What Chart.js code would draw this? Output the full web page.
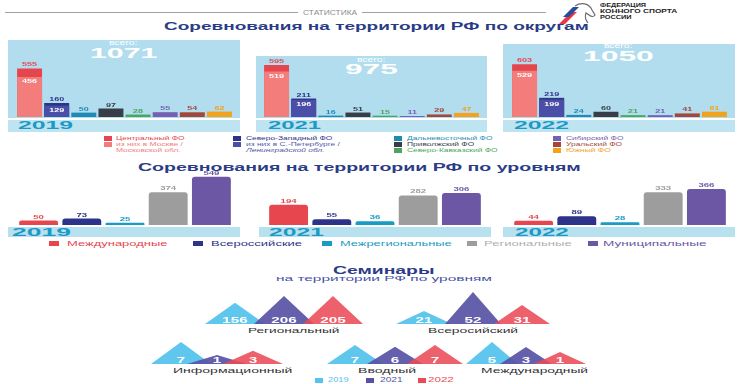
<!DOCTYPE html>
<html lang="ru">
<head>
<meta charset="utf-8">
<title>Статистика</title>
<script src="https://cdn.jsdelivr.net/npm/chart.js@4.4.1/dist/chart.umd.min.js"></script>
<style>
  body { margin: 0; width: 750px; height: 384px; background: #fff; position: relative; overflow: hidden;
         font-family: "Liberation Sans", Arial, sans-serif; }
  .t { position: absolute; white-space: nowrap; line-height: 1; transform-origin: 0 0; transform: scaleX(1.4); }
  .b { font-weight: bold; }
  .box { position: absolute; }
  .sq { position: absolute; width: 8px; height: 5px; }
  .leg { font-size: 6px; }
  canvas { position: absolute; }
</style>
</head>
<body>

<!-- шапка -->
<div class="box" style="left:5px;top:12px;width:293px;height:1px;background:#a0a0a0"></div>
<div class="t" data-w="54" style="left:303px;top:9px;font-size:7px;color:#8c8c8c">СТАТИСТИКА</div>
<div class="box" style="left:362px;top:12px;width:184px;height:1px;background:#a0a0a0"></div>
<svg class="box" style="left:558px;top:1px" width="40" height="24" viewBox="0 0 40 24">
  <polygon points="1,23 7,23 19,11 13,11" fill="#e53a45"/>
  <polygon points="5,16 11,16 21,6 15,6" fill="#2a4a9c"/>
  <path d="M17 5 C23 1 31 2 34 9 L37 14 Q35 17 31 14 L28 12 Q26 17 30 22" fill="none" stroke="#6a6a6a" stroke-width="1.2"/>
</svg>
<div class="t b" data-w="46" style="left:600px;top:3px;font-size:5.5px;color:#222">ФЕДЕРАЦИЯ</div>
<div class="t b" data-w="78" style="left:600px;top:9px;font-size:5.5px;color:#222">КОННОГО СПОРТА</div>
<div class="t b" data-w="32" style="left:600px;top:15px;font-size:5.5px;color:#222">РОССИИ</div>

<!-- по округам -->
<div class="t b" data-w="425" style="left:164px;top:21px;font-size:11px;color:#2b3c86">Соревнования на территории РФ по округам</div>

<div class="box" style="left:8px;top:40px;width:232px;height:78px;background:#b2ddee"></div>
<div class="box" style="left:256px;top:56px;width:231px;height:62px;background:#b2ddee"></div>
<div class="box" style="left:503px;top:44px;width:232px;height:74px;background:#b2ddee"></div>
<div class="box" style="left:8px;top:120px;width:232px;height:12px;background:#bee3f1"></div>
<div class="box" style="left:256px;top:120px;width:231px;height:12px;background:#bee3f1"></div>
<div class="box" style="left:503px;top:120px;width:232px;height:12px;background:#bee3f1"></div>

<div class="t" data-w="28" style="left:109px;top:39px;font-size:7px;color:#fff">всего:</div>
<div class="t b total" data-w="67" style="left:90px;top:46px;font-size:14px;color:#fff"></div>
<div class="t" data-w="28" style="left:357px;top:56px;font-size:7px;color:#fff">всего:</div>
<div class="t b total" data-w="52" style="left:345px;top:62px;font-size:14px;color:#fff"></div>
<div class="t" data-w="28" style="left:604px;top:42px;font-size:7px;color:#fff">всего:</div>
<div class="t b total" data-w="70" style="left:583px;top:48px;font-size:15px;color:#fff"></div>

<div class="t b year" data-w="54" style="left:18px;top:119.5px;font-size:11px;color:#1c9ac6"></div>
<div class="t b year" data-w="52" style="left:268px;top:119.5px;font-size:11px;color:#1c9ac6"></div>
<div class="t b year" data-w="54" style="left:514px;top:119.5px;font-size:11px;color:#1c9ac6"></div>

<!-- легенда округов -->
<div class="sq" style="left:104px;top:136px;background:#e5464e"></div>
<div class="sq" style="left:104px;top:142px;background:#f27d7b"></div>
<div class="t leg" style="left:116px;top:135px;color:#e5464e">Центральный ФО</div>
<div class="t leg" style="left:116px;top:141px;color:#ef7f7f">из них в Москве /</div>
<div class="t leg" style="left:116px;top:147px;color:#ef7f7f">Московской обл.</div>

<div class="sq" style="left:233px;top:136px;background:#2c3487"></div>
<div class="sq" style="left:233px;top:142px;background:#4a4ea7"></div>
<div class="t leg" style="left:246px;top:135px;color:#2c3487">Северо-Западный ФО</div>
<div class="t leg" style="left:246px;top:141px;color:#5257aa">из них в С.-Петербурге /</div>
<div class="t leg" style="left:246px;top:147px;color:#5257aa;font-style:italic">Ленинградской обл.</div>

<div class="sq" style="left:394px;top:136px;background:#1f8bb2"></div>
<div class="sq" style="left:394px;top:142px;background:#383d47"></div>
<div class="sq" style="left:394px;top:148px;background:#4ba65b"></div>
<div class="t leg" style="left:407px;top:135px;color:#1f8bb2">Дальневосточный ФО</div>
<div class="t leg" style="left:407px;top:141px;color:#383d47">Приволжский ФО</div>
<div class="t leg" style="left:407px;top:147px;color:#4ba65b">Северо-Кавказский ФО</div>

<div class="sq" style="left:553px;top:136px;background:#7560b1"></div>
<div class="sq" style="left:553px;top:142px;background:#a3473a"></div>
<div class="sq" style="left:553px;top:148px;background:#f2a21c"></div>
<div class="t leg" style="left:566px;top:135px;color:#7560b1">Сибирский ФО</div>
<div class="t leg" style="left:566px;top:141px;color:#a3473a">Уральский ФО</div>
<div class="t leg" style="left:566px;top:147px;color:#f2a21c">Южный ФО</div>

<!-- по уровням -->
<div class="t b" data-w="442" style="left:138px;top:161.5px;font-size:11px;color:#2b3c86">Соревнования на территории РФ по уровням</div>

<div class="box" style="left:8px;top:227px;width:232px;height:10px;background:#b8e1f0"></div>
<div class="box" style="left:259px;top:227px;width:232px;height:10px;background:#b8e1f0"></div>
<div class="box" style="left:503px;top:227px;width:232px;height:10px;background:#b8e1f0"></div>
<div class="t b year" data-w="58" style="left:12px;top:226.5px;font-size:10.5px;color:#1c9ac6"></div>
<div class="t b year" data-w="54" style="left:269px;top:226.5px;font-size:10.5px;color:#1c9ac6"></div>
<div class="t b year" data-w="53" style="left:515px;top:226.5px;font-size:10.5px;color:#1c9ac6"></div>

<div class="sq" style="left:49px;top:241px;width:10px;background:#e8464f"></div>
<div class="t" data-w="100" style="left:67px;top:240px;font-size:7px;color:#e8464f">Международные</div>
<div class="sq" style="left:193px;top:241px;width:10px;background:#2c3388"></div>
<div class="t" data-w="91" style="left:211px;top:240px;font-size:7px;color:#2c3388">Всероссийские</div>
<div class="sq" style="left:322px;top:241px;width:10px;background:#189cc3"></div>
<div class="t" data-w="112" style="left:340px;top:240px;font-size:7px;color:#189cc3">Межрегиональные</div>
<div class="sq" style="left:467px;top:241px;width:10px;background:#9d9d9d"></div>
<div class="t" data-w="88" style="left:484px;top:240px;font-size:7px;color:#b0b0b0">Региональные</div>
<div class="sq" style="left:588px;top:241px;width:10px;background:#6b57a4"></div>
<div class="t" data-w="103" style="left:603px;top:240px;font-size:7px;color:#6b57a4">Муниципальные</div>

<!-- семинары -->
<div class="t b" data-w="102" style="left:333px;top:264.5px;font-size:11px;color:#2b3c86">Семинары</div>
<div class="t" data-w="216" style="left:276px;top:275px;font-size:8px;color:#4652a6">на территории РФ по уровням</div>

<div class="t seminar" data-w="92" style="left:248px;top:327px;font-size:8px;color:#333"></div>
<div class="t seminar" data-w="90" style="left:428px;top:327px;font-size:8px;color:#333"></div>
<div class="t seminar" data-w="119" style="left:173px;top:367px;font-size:8px;color:#333"></div>
<div class="t seminar" data-w="58" style="left:358px;top:367px;font-size:8px;color:#333"></div>
<div class="t seminar" data-w="107" style="left:481px;top:367px;font-size:8px;color:#333"></div>

<div class="sq" style="left:315px;top:378px;background:#56c3ec"></div>
<div class="t" data-w="20" style="left:328px;top:377px;font-size:6.5px;color:#56c3ec">2019</div>
<div class="sq" style="left:366px;top:378px;background:#5852a4"></div>
<div class="t" data-w="22" style="left:380px;top:377px;font-size:6.5px;color:#5852a4">2021</div>
<div class="sq" style="left:418px;top:378px;background:#e94b58"></div>
<div class="t" data-w="25" style="left:428px;top:377px;font-size:6.5px;color:#e94b58">2022</div>

<script>
// Соревнования по округам
const districts = ['Центральный ФО', 'Северо-Западный ФО', 'Дальневосточный ФО', 'Приволжский ФО',
                   'Северо-Кавказский ФО', 'Сибирский ФО', 'Уральский ФО', 'Южный ФО'];
const years = ['2019', '2021', '2022'];
const grandTotals = [1071, 975, 1050];
const byDistrict2019 = [555, 160, 50, 97, 28, 55, 54, 62];
const byDistrict2021 = [595, 211, 16, 51, 15, 11, 29, 47];
const byDistrict2022 = [603, 219, 24, 60, 21, 21, 41, 61];
// из них Москва / Московская обл. и С.-Петербург / Ленинградская обл.
const capitals2019 = [456, 129];
const capitals2021 = [519, 196];
const capitals2022 = [529, 199];

// Соревнования по уровням
const levels = ['Международные', 'Всероссийские', 'Межрегиональные', 'Региональные', 'Муниципальные'];
const byLevel2019 = [50, 73, 25, 374, 549];
const byLevel2021 = [194, 55, 36, 282, 306];
const byLevel2022 = [44, 89, 28, 333, 366];

// Семинары по уровням
const seminarTypes = ['Региональный', 'Всеросийский', 'Информационный', 'Вводный', 'Международный'];
const seminars2019 = [156, 21, 7, 7, 5];
const seminars2021 = [206, 52, 1, 6, 3];
const seminars2022 = [205, 31, 3, 7, 1];

const districtColors = ['#e5464e', '#2c3487', '#1f8bb2', '#383d47', '#4ba65b', '#7560b1', '#a3473a', '#f2a21c'];
const capitalColors = ['#f27d7b', '#4a4ea7'];
const levelColors = ['#e8464f', '#2c3388', '#189cc3', '#9d9d9d', '#6b57a4'];
const seminarColors = ['rgba(86,195,236,0.95)', 'rgba(88,82,164,0.92)', 'rgba(233,75,88,0.88)'];

// подписи
document.querySelectorAll('.total').forEach((el, i) => el.textContent = grandTotals[i]);
document.querySelectorAll('.year').forEach((el, i) => el.textContent = years[i % 3]);
document.querySelectorAll('.seminar').forEach((el, i) => el.textContent = seminarTypes[i]);
document.querySelectorAll('.t[data-w]').forEach(el => {
    el.style.transform = `scaleX(${el.dataset.w / el.offsetWidth})`;
});

function stretchText(ctx, text, x, y, size, color, sx) {
    ctx.save();
    ctx.font = `bold ${size}px "Liberation Sans", Arial, sans-serif`;
    ctx.fillStyle = color;
    ctx.textAlign = 'center';
    ctx.translate(x, y);
    ctx.scale(sx, 1);
    ctx.fillText(String(text), 0, 0);
    ctx.restore();
}

// значения над столбцами (и внутри — для "из них")
const barLabels = {
    id: 'barLabels',
    afterDatasetsDraw(chart, args, opts) {
        chart.data.datasets.forEach((ds, i) => {
            chart.getDatasetMeta(i).data.forEach((bar, j) => {
                const v = ds.data[j];
                if (v == null) return;
                if (ds.inside) {
                    stretchText(chart.ctx, v, bar.x, bar.y + opts.size + 0.5, opts.size, '#fff', opts.sx);
                } else {
                    stretchText(chart.ctx, v, bar.x, bar.y - 2, opts.size, ds.backgroundColor[j], opts.sx);
                }
            });
        });
    }
};

// значения у основания "гор"
const peakLabels = {
    id: 'peakLabels',
    afterDatasetsDraw(chart, args, opts) {
        chart.data.datasets.forEach((ds, i) => {
            const peak = chart.getDatasetMeta(i).data[1];
            stretchText(chart.ctx, ds.value, peak.x, chart.chartArea.bottom - 1.5, opts.size, '#fff', opts.sx);
        });
    }
};

function canvasAt(left, top, width, height) {
    const c = document.createElement('canvas');
    c.width = width;
    c.height = height;
    c.style.left = left + 'px';
    c.style.top = top + 'px';
    document.body.appendChild(c);
    return c;
}

function barOptions(yMax, barPct, labelSize, labelSx) {
    return {
        responsive: false,
        animation: false,
        events: [],
        layout: { padding: 0 },
        datasets: { bar: { grouped: false, categoryPercentage: 1, barPercentage: barPct } },
        plugins: {
            legend: { display: false },
            tooltip: { enabled: false },
            barLabels: { size: labelSize, sx: labelSx }
        },
        scales: {
            x: { display: false },
            y: { display: false, min: 0, max: yMax }
        }
    };
}

function districtChart(left, totals, capitals) {
    new Chart(canvasAt(left, 40, 217, 77), {
        type: 'bar',
        data: {
            labels: districts,
            datasets: [
                { data: capitals, backgroundColor: capitalColors, inside: true, order: 0 },
                { data: totals, backgroundColor: districtColors, order: 1 }
            ]
        },
        options: barOptions(880, 0.92, 5.8, 1.55),
        plugins: [barLabels]
    });
}

function levelChart(left, values, yMax) {
    new Chart(canvasAt(left, 160, 216, 65), {
        type: 'bar',
        data: {
            labels: levels,
            datasets: [{ data: values, backgroundColor: levelColors, borderRadius: { topLeft: 3, topRight: 3 } }]
        },
        options: barOptions(yMax, 0.9, 6.2, 1.55),
        plugins: [barLabels]
    });
}

// k — тип семинара; center/step/half — место и ширина "гор" в пикселях
function seminarChart(k, center, step, half, base, floor, yMax) {
    const values = [seminars2019[k], seminars2021[k], seminars2022[k]];
    const hw = half / step;
    new Chart(canvasAt(center - 2 * step, base - 40, 4 * step, 40), {
        type: 'line',
        data: {
            datasets: values.map((v, i) => ({
                data: [{ x: i - hw, y: floor }, { x: i, y: v }, { x: i + hw, y: floor }],
                value: v,
                backgroundColor: seminarColors[i],
                borderWidth: 0,
                pointRadius: 0,
                fill: 'start',
                order: 2 - i
            }))
        },
        options: {
            responsive: false,
            animation: false,
            events: [],
            layout: { padding: 0 },
            plugins: {
                legend: { display: false },
                tooltip: { enabled: false },
                peakLabels: { size: 9, sx: 1.7 }
            },
            scales: {
                x: { type: 'linear', display: false, min: -1, max: 3 },
                y: { display: false, min: floor, max: yMax }
            }
        },
        plugins: [peakLabels]
    });
}

districtChart(16, byDistrict2019, capitals2019);
districtChart(263, byDistrict2021, capitals2021);
districtChart(511, byDistrict2022, capitals2022);

levelChart(17, byLevel2019, 740);
levelChart(267, byLevel2021, 620);
levelChart(512, byLevel2022, 660);

seminarChart(0, 284, 49, 30, 324, 0, 294);
seminarChart(1, 473, 49, 28, 324, 0, 65);
seminarChart(2, 217, 36, 30, 364, -3.1, 15.2);
seminarChart(3, 395, 40, 28, 364, -3, 18);
seminarChart(4, 526, 34, 26, 364, -3.8, 12.2);
</script>
</body>
</html>
